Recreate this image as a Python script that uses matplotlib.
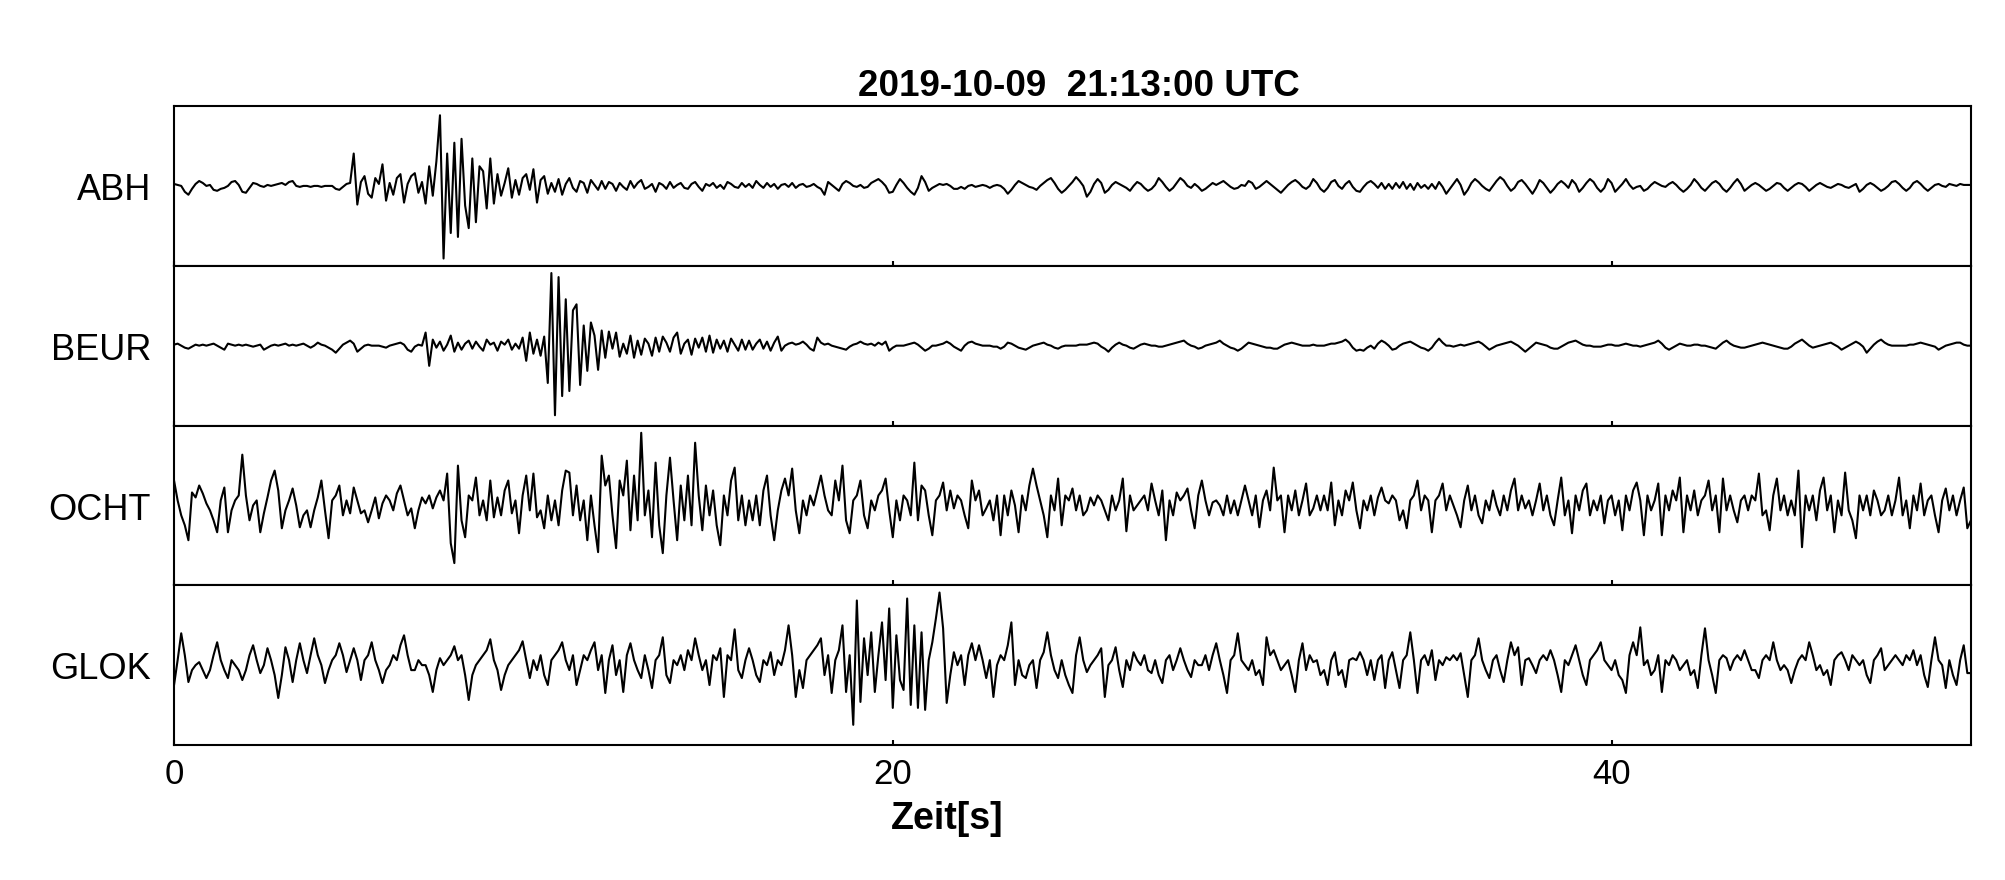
import matplotlib
matplotlib.use('Agg')
import matplotlib.pyplot as plt
import numpy as np

plt.rcParams['font.family'] = ['Liberation Sans', 'DejaVu Sans']

stations = ['ABH', 'BEUR', 'OCHT', 'GLOK']
title = '2019-10-09  21:13:00 UTC'
dt = 0.1  # sample spacing in seconds

# amplitudes, one row per second
abh = [2, 1, 0, -6, -9, -3, 2, 5, 3, 0,
       1, -4, -5, -3, -2, 0, 4, 5, 1, -6,
       -7, -2, 3, 2, 0, -1, 1, 0, 1, 2,
       3, 1, 4, 5, 0, -1, 0, 0, -1, 0,
       0, -1, 0, 0, 0, -3, -4, -1, 2, 3,
       33, -19, 4, 10, -8, -12, 8, 2, 22, -15,
       3, -9, 8, 12, -17, 2, 10, 13, -7, 4,
       -18, 20, -10, 25, 72, -74, 33, -48, 44, -52,
       48, -20, -43, 28, -37, 20, 15, -23, 28, -18,
       12, -10, 3, 18, -12, 6, -9, 8, 12, -4,
       17, -17, 6, 10, -8, 3, -6, 7, -9, 2,
       8, -2, -6, 5, 3, -7, 6, 1, -4, 5,
       -3, 4, 2, -5, 3, -1, -4, 5, -2, 3,
       6, -3, -1, 2, -6, 3, 1, -3, 4, -2,
       1, 3, -2, -3, 2, 4, -1, -5, 2, 0,
       3, -2, 1, -3, 4, 2, -1, -2, 3, -1,
       2, -2, 5, 1, -2, 3, -1, 2, -3, 1,
       2, -1, 3, -2, 1, 2, -1, 0, 2, -1,
       -3, -9, 4, 1, -2, -5, 2, 5, 3, 0,
       -1, 1, -2, -1, 3, 5, 7, 4, 0, -7,
       -6, 1, 7, 3, -2, -6, -9, -2, 10, 4,
       -5, -2, 0, 2, 1, 2, 0, -3, -3, -1,
       -3, 0, 1, -1, 0, 1, 0, -2, 0, 1,
       0, -3, -8, -4, 1, 5, 3, 1, -1, -2,
       -4, 0, 3, 6, 8, 3, -3, -7, -4, 0,
       4, 9, 5, 0, -11, -6, 2, 7, 3, -7,
       -4, 1, 4, 2, 0, -2, -5, 0, 4, 2,
       -2, -5, -3, 1, 8, 4, -1, -5, -2, 3,
       8, 5, 0, -2, 2, -1, -5, -3, 0, 3,
       1, 3, 5, 2, -1, -3, -2, 1, 0, 5,
       3, -3, -1, 2, 5, 2, -1, -4, -7, -3,
       1, 4, 6, 3, -1, -3, 0, 7, 3, -3,
       -6, -2, 4, 6, 0, -3, 2, 5, -1, -5,
       -6, -1, 3, 5, 2, -2, 3, -3, 2, -3,
       3, -2, 4, -3, 2, -4, 3, -2, 1, -3,
       2, -3, 4, -1, -8, -3, 2, 7, 1, -9,
       -4, 3, 7, 4, 0, -3, -5, 0, 5, 9,
       6, 0, -5, -2, 4, 6, 2, -3, -8, -2,
       6, 3, -2, -7, -3, 2, 5, 2, -2, 6,
       2, -6, -2, 3, 7, 4, -2, -6, -2, 7,
       3, -6, -2, 2, 7, 1, -3, -1, 0, -5,
       -3, 1, 4, 2, 0, -1, 2, 4, 1, -3,
       -6, -3, 1, 7, 3, -2, -5, -1, 3, 5,
       2, -3, -6, -2, 3, 7, 2, -5, -2, 1,
       3, 1, -2, -5, -3, 0, 3, 2, -2, -5,
       -2, 1, 3, 2, -1, -5, -2, 1, 3, 1,
       -1, -2, 0, 2, 1, -1, -2, 0, 2, -6,
       -3, 1, 3, 1, -2, -5, -3, 0, 4, 5,
       2, -2, -5, -2, 3, 5, 2, -2, -5, -2,
       1, 2, 0, -1, 2, 1, 0, 2, 1, 1,
       1]

beur = [1, 2, 0, -2, -3, -1, 1, 0, 1, 0,
        1, 2, 0, -2, -4, 2, 1, 0, 1, 0,
        1, 0, -1, 0, 1, -4, -2, 0, 1, 0,
        1, 2, 0, 1, 0, 1, 2, 0, -2, 0,
        3, 1, 0, -2, -4, -7, -3, 1, 3, 5,
        2, -6, -3, 0, 1, 0, 0, 0, -1, -2,
        0, 1, 2, 3, 1, -4, -6, -1, 1, 0,
        13, -20, 6, -2, 4, -5, 1, 10, -6, 3,
        -4, 2, 5, -3, 4, -1, -5, 6, 1, 3,
        -5, 4, 1, 6, -4, 2, -3, 8, -15, 13,
        -8, 6, -10, 9, -37, 72, -69, 68, -50, 46,
        -45, 35, 41, -39, 20, -25, 23, 10, -24, 15,
        -12, 14, -3, 13, -11, 2, -8, 10, -12, 5,
        -9, 7, 2, -10, 8, -6, 9, 3, -6, 8,
        13, -8, 2, 6, -9, 7, -2, 8, -6, 10,
        -7, 6, -3, 5, -6, 7, 1, -5, 6, -4,
        5, -4, 2, 6, -3, 4, -5, 3, 9, -5,
        0, 2, 3, 1, 2, 4, 1, -3, -5, 8,
        3, 1, 2, 0, -1, -2, -3, -4, -1, 1,
        2, 4, 2, 1, 2, 0, 3, 1, 4, -5,
        -2, 0, 0, 0, 1, 2, 3, 1, -2, -5,
        -3, 0, 0, 1, 2, 4, 2, -1, -3, -5,
        0, 3, 4, 2, 1, 0, 0, 0, -1, -1,
        -3, -1, 3, 2, 0, -2, -3, -4, -2, 0,
        1, 2, 3, 1, 0, -2, -3, -1, 0, 0,
        0, 0, 1, 1, 1, 2, 3, 2, -1, -3,
        -6, -2, 1, 3, 1, 0, -2, -3, -1, 1,
        2, 1, 0, 0, -1, -1, 0, 1, 2, 3,
        4, 5, 2, 0, -1, -3, -2, 0, 1, 2,
        3, 5, 2, 0, -2, -3, -5, -3, 0, 3,
        2, 1, 0, -1, -2, -2, -3, -3, -1, 1,
        2, 3, 2, 1, 0, 0, 0, 1, 0, 0,
        0, 1, 2, 2, 3, 4, 6, 3, -2, -5,
        -4, -5, -2, 0, -3, 2, 5, 3, 0, -4,
        -3, 0, 2, 3, 4, 2, 0, -2, -3, -5,
        -2, 3, 7, 3, 0, 0, -1, 0, 1, 0,
        1, 2, 3, 4, 2, -1, -4, -2, 0, 1,
        2, 3, 4, 2, 0, -3, -6, -3, 0, 3,
        2, 1, 0, -2, -3, -3, -1, 1, 3, 4,
        5, 3, 1, 0, 0, -1, -1, -1, 0, 1,
        1, 0, 0, 1, 2, 1, 0, 0, -1, 0,
        1, 2, 3, 5, 2, -2, -4, -2, 0, 2,
        1, 0, 0, 1, 1, 0, 0, -1, -2, -3,
        0, 3, 5, 2, 0, -1, -2, -2, -1, 0,
        1, 2, 3, 2, 1, 0, -1, -2, -3, -3,
        -1, 2, 4, 6, 3, 0, -2, -1, 0, 1,
        2, 3, 1, -1, -4, -2, 0, 2, 4, 2,
        -1, -7, -3, 1, 4, 6, 3, 1, 0, 0,
        0, 0, 0, 1, 1, 2, 3, 2, 1, 0,
        -1, -4, -2, 0, 1, 2, 3, 3, 1, 0,
        0]

ocht = [25, 5, -10, -20, -35, 13, 8, 20, 12, 2,
        -5, -15, -27, 5, 18, -27, -5, 5, 10, 51,
        10, -15, 0, 5, -27, -8, 8, 25, 35, 15,
        -23, -5, 5, 17, 0, -22, -10, -5, -22, -5,
        8, 25, -5, -33, 5, 10, 20, -10, 5, -8,
        18, 5, -8, -5, -17, -5, 8, -13, 2, 10,
        5, -5, 12, 20, 5, -10, -3, -23, -5, 8,
        2, 10, -3, 8, 15, 5, 32, -38, -58, 40,
        -15, -32, 10, 5, 28, -10, 5, -15, 25, -12,
        8, -10, 15, 25, -8, 5, -28, 10, 30, -5,
        32, -12, -5, -23, 10, -15, 5, -20, 15, 35,
        33, -10, 20, -15, 5, -35, 10, -20, -47, 50,
        20, 30, -10, -43, 25, 10, 45, -25, 30, -15,
        73, -10, 15, -32, 43, -20, -48, 10, 48, 5,
        -35, 20, -15, 30, -20, 63, 10, -25, 20, -10,
        15, -20, -40, 10, -10, 25, 38, -15, 10, -20,
        5, -15, 10, -20, 15, 30, -10, -35, -5, 15,
        27, 10, 37, -5, -28, 5, -10, 10, 0, 15,
        30, 10, -5, -10, 25, 5, 40, -15, -28, 5,
        10, 25, -10, -23, 5, -5, 10, 15, 27, -5,
        -32, 5, -15, 10, 5, -10, 43, -15, 20, 15,
        -10, -30, 5, 10, 23, -5, 15, -3, 10, 5,
        -10, -23, 25, 5, 15, -10, -3, 5, -15, 10,
        -30, 10, -10, 15, 0, -27, 10, -5, 20, 37,
        20, 5, -10, -32, 10, -5, 27, -20, 10, 5,
        17, -5, 10, -10, -5, 8, 0, 10, 5, -5,
        -15, 10, -5, 5, 27, -26, 10, -5, 0, 5,
        10, -5, 22, 5, -10, 15, -35, 5, -10, 13,
        5, 10, 17, -5, -23, 10, 25, 5, -10, 3,
        5, 0, -10, 10, -8, 5, -10, 5, 20, 5,
        -10, 10, -22, 5, 15, -5, 38, 5, 10, -27,
        10, -5, 15, -10, 5, 22, -10, -3, 10, -5,
        10, -5, 23, -20, 5, -10, 15, 5, 23, -5,
        -23, 5, -5, 10, -10, 8, 18, 5, 2, 10,
        5, -15, -5, -23, 5, 10, 25, -5, 10, 5,
        -27, 5, 10, 22, -5, 10, 0, -10, -22, 5,
        20, -5, 10, -10, -18, 5, -5, 15, 0, -10,
        10, -5, 15, 27, -5, 10, -3, 5, -10, 5,
        22, -5, 10, -10, -20, 5, 28, -10, 5, -28,
        10, -5, 15, 22, -10, 5, -5, 10, -18, 5,
        10, -10, 5, -25, 10, -5, 15, 23, 5, -30,
        10, -5, 5, 22, -30, 10, -5, 15, 5, 28,
        -27, 10, -5, 15, -10, 5, 10, 25, -5, 10,
        -27, 27, -5, 10, -5, -17, 5, 10, -5, 10,
        5, 32, -10, -5, -25, 10, 27, -5, 10, -10,
        5, -10, 35, -42, 10, -5, 10, -15, 15, 28,
        -5, 10, -27, 5, -10, 33, -5, -15, -33, 10,
        -5, 10, -10, 15, 5, -10, -5, 10, -10, 5,
        28, -10, 5, -23, 10, -5, 22, -10, 5, 10,
        -10, -27, 5, 17, -5, 10, -10, 5, 18, -23,
        -15]

glok = [-20, 5, 32, 10, -17, -5, 0, 3, -5, -13,
        -5, 10, 23, 5, -5, -13, 5, 0, -5, -15,
        -5, 10, 20, 5, -8, 0, 17, 5, -10, -33,
        -10, 18, 5, -17, 5, 22, 5, -8, 10, 27,
        10, 0, -18, -5, 5, 10, 22, 10, -7, 5,
        17, 5, -15, 5, 10, 23, 5, -5, -18, -5,
        0, 10, 5, 20, 30, 10, -5, -5, 5, 0,
        0, -10, -27, -5, 7, 0, 5, 10, 19, 5,
        10, -10, -35, -10, 0, 5, 10, 15, 26, 5,
        -5, -25, -10, 0, 5, 10, 15, 24, 5, -13,
        5, -5, 10, -10, -20, 5, 10, 15, 23, 5,
        -5, 10, -20, -5, 10, 5, 15, 23, -5, 10,
        -28, 5, 20, -10, 5, -27, 10, 22, 5, -5,
        -13, 10, -5, -23, 5, 10, 28, -10, -18, 5,
        0, 10, -5, 15, 5, 27, 10, -5, 5, -20,
        10, 5, 17, -32, 10, 5, 36, -5, -13, 5,
        17, 5, -10, -17, 5, 0, 13, -10, 5, 0,
        15, 40, 10, -32, -5, -23, 5, 10, 15, 20,
        27, -10, 10, -28, 5, 15, 40, -27, 10, -60,
        65, -37, 27, -10, 33, -27, 10, 43, -15, 57,
        -43, 30, -15, -25, 67, -40, 40, -43, 33, -45,
        5, 23, 47, 73, 37, -38, -10, 13, 0, 10,
        -20, 10, 22, 5, 20, 5, -13, 5, -32, 0,
        10, 5, 20, 43, -20, 5, -10, -13, 0, 5,
        -23, 5, 13, 33, 10, -5, -13, 5, -10, -20,
        -28, 10, 28, 5, -7, 0, 5, 10, 17, -32,
        0, 5, 18, -5, -22, 5, -5, 13, 5, 0,
        10, -5, -8, 5, -10, -18, 5, 10, -5, 5,
        17, 5, -5, -12, 5, 0, 0, 10, -5, 10,
        22, 5, -10, -28, 5, 10, 32, 5, 0, -5,
        5, -10, -5, -20, 28, 10, 15, 5, -5, 0,
        5, -10, -27, 5, 22, -5, 10, 3, 5, -10,
        -5, -20, 5, 13, -10, -5, -22, 5, 7, 5,
        13, 5, -10, 5, -15, 5, 10, -23, 5, 13,
        -5, -23, 5, 10, 33, 5, -28, 5, 10, 0,
        15, -15, 5, 0, 8, 5, 10, 5, 12, -10,
        -32, 5, 10, 27, 5, -5, -13, 5, 10, -5,
        -17, 5, 23, 10, 18, -20, 5, 7, 0, -8,
        5, 10, 5, 15, 5, -10, -27, 5, 0, 10,
        20, 5, -10, -20, 5, 10, 15, 23, 5, 0,
        -5, 5, -10, -15, -28, 10, 23, 10, 38, 0,
        5, -10, -5, 10, -27, 5, 0, 10, 5, -5,
        0, 5, -10, -5, -23, 10, 37, 5, -10, -28,
        5, 10, 7, -5, 5, 10, 5, 15, 5, -5,
        -5, -13, 5, 10, 5, 23, 5, -5, 0, -5,
        -18, -5, 5, 10, 5, 23, 10, -5, 0, -10,
        -5, -20, 5, 10, 13, 5, -5, 10, 5, 0,
        5, -10, -18, 5, 10, 17, -5, 0, 5, 10,
        5, 0, 10, 5, 15, 0, 10, -10, -22, 5,
        28, 5, 0, -23, 5, -10, -20, 5, 20, -8,
        -8]

traces = [abh, beur, ocht, glok]
xticks = [0, 20, 40]

fig, axes = plt.subplots(4, 1, sharex=True, figsize=(20.05, 8.8), dpi=100)
fig.subplots_adjust(left=0.0868, right=0.983, top=0.8795, bottom=0.1534, hspace=0)

for ax, name, tr in zip(axes, stations, traces):
    y = np.array(tr, dtype=float)
    y = y / np.abs(y).max()  # normalise each trace to its own peak
    t = np.arange(len(y)) * dt
    ax.plot(t, y, color='black', lw=1.5)
    ax.set_ylim(-1.1, 1.1)
    ax.set_yticks([])
    for s in ax.spines.values():
        s.set_linewidth(1.5)
    ax.tick_params(axis='x', direction='in', length=3.5, width=1.5,
                   labelsize=25, pad=9)
    ax.text(-0.0128, 0.47, name, transform=ax.transAxes, ha='right',
            va='center', fontsize=26)

axes[-1].set_xlim(0, 50)
axes[-1].set_xticks(xticks)

fig.text(0.538, 0.891, title, ha='center', va='baseline',
         fontsize=26.5, fontweight='bold')
fig.text(0.4723, 0.058, 'Zeit[s]', ha='center', va='baseline',
         fontsize=27, fontweight='bold')

fig.savefig('out.png', dpi=100)
